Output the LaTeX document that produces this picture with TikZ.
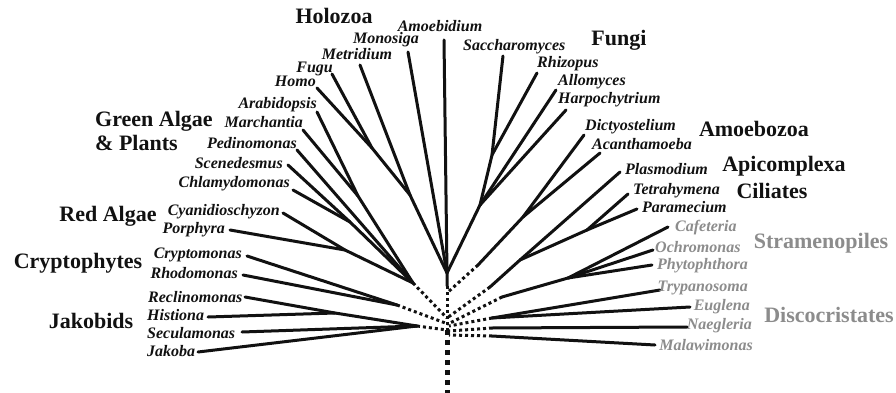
\documentclass[tikz,border=0pt]{standalone}
\usepackage{fontspec}
\setmainfont{Liberation Serif}
\usepackage{xcolor}
\definecolor{treeink}{HTML}{111111}
\definecolor{treemuted}{HTML}{8C8C8C}

\begin{document}
\begin{tikzpicture}[x=1pt, y=-1pt,
                    every node/.style={treeink, inner sep=0pt},
                    sp/.style={font=\fontsize{16}{16}\selectfont\bfseries\itshape},
                    spg/.style={sp, treemuted},
                    grp/.style={font=\fontsize{22}{24}\selectfont\bfseries},
                    grpg/.style={grp, treemuted},
                    branch/.style={treeink, line width=3pt, line join=round, line cap=round},
                    link/.style={treeink, line width=3pt, dash pattern=on 3pt off 3pt},
                    trunkline/.style={treeink, line width=5pt, dash pattern=on 5pt off 5pt}]

  \fill[white] (0,0) rectangle (896,393);
  \useasboundingbox (0,0) rectangle (896,393);

  %% Wurzel und Stamm
  \coordinate (root) at (447,330);
  \coordinate (base) at (447,393);
  \coordinate (ra) at (447,293);
  \coordinate (rb) at (447,318);
  \coordinate (rc) at (448,324);

  %% Verzweigungen
  \coordinate (hf) at (372,148);
  \coordinate (hfm) at (410,195);
  \coordinate (op) at (447,273);
  \coordinate (ops) at (447,286);
  \coordinate (sr) at (492,155);
  \coordinate (fg) at (480,205);
  \coordinate (am) at (523,217);
  \coordinate (amx) at (478,265);
  \coordinate (ci) at (587,230);
  \coordinate (al) at (520,260);
  \coordinate (alx) at (490,287);
  \coordinate (st) at (568,278);
  \coordinate (stx) at (502,297);
  \coordinate (eu) at (492,318);
  \coordinate (nx) at (492,328);
  \coordinate (mx) at (492,336);
  \coordinate (lp) at (358,196);
  \coordinate (cs) at (350,222);
  \coordinate (rd) at (345,250);
  \coordinate (pl) at (413,283);
  \coordinate (cr) at (397,305);
  \coordinate (hr) at (335,313);
  \coordinate (jk) at (417,326);

  %% Blattspitzen
  \coordinate (tHomo) at (317,88);
  \coordinate (tFugu) at (332,74);
  \coordinate (tMetridium) at (360,65);
  \coordinate (tMonosiga) at (408,52);
  \coordinate (tAmoebidium) at (444,40);
  \coordinate (tSaccharomyces) at (503,56);
  \coordinate (tRhizopus) at (537,73);
  \coordinate (tAllomyces) at (556,90);
  \coordinate (tHarpochytrium) at (566,110);
  \coordinate (tDictyostelium) at (584,135);
  \coordinate (tAcanthamoeba) at (600,153);
  \coordinate (tPlasmodium) at (620,172);
  \coordinate (tTetrahymena) at (628,194);
  \coordinate (tParamecium) at (637,209);
  \coordinate (tCafeteria) at (668,227);
  \coordinate (tOchromonas) at (653,250);
  \coordinate (tPhytophthora) at (652,265);
  \coordinate (tTrypanosoma) at (660,290);
  \coordinate (tEuglena) at (690,307);
  \coordinate (tNaegleria) at (687,327);
  \coordinate (tMalawimonas) at (655,345);
  \coordinate (tArabidopsis) at (317,112);
  \coordinate (tMarchantia) at (303,130);
  \coordinate (tPedinomonas) at (297,150);
  \coordinate (tScenedesmus) at (288,165);
  \coordinate (tChlamydomonas) at (293,190);
  \coordinate (tCyanidioschyzon) at (283,213);
  \coordinate (tPorphyra) at (230,230);
  \coordinate (tCryptomonas) at (247,256);
  \coordinate (tRhodomonas) at (243,275);
  \coordinate (tReclinomonas) at (245,297);
  \coordinate (tHistiona) at (208,317);
  \coordinate (tSeculamonas) at (242,332);
  \coordinate (tJakoba) at (198,352);

  %% Opisthokonta
  \draw[branch] (tHomo) -- (hf) -- (hfm) -- (op) -- (ops);
  \draw[branch] (tFugu) -- (hf);
  \draw[branch] (tMetridium) -- (hfm);
  \draw[branch] (tMonosiga) -- (op);
  \draw[branch] (tAmoebidium) -- (op);
  \draw[branch] (tSaccharomyces) -- (sr) -- (fg) -- (op);
  \draw[branch] (tRhizopus) -- (sr);
  \draw[branch] (tAllomyces) -- (fg);
  \draw[branch] (tHarpochytrium) -- (fg);
  \draw[link] (ops) -- (root);

  %% Amoebozoa, Alveolata, Stramenopiles
  \draw[branch] (tDictyostelium) -- (am) -- (amx);
  \draw[branch] (tAcanthamoeba) -- (am);
  \draw[link] (amx) -- (ra);
  \draw[branch] (tPlasmodium) -- (al) -- (alx);
  \draw[branch] (tTetrahymena) -- (ci) -- (al);
  \draw[branch] (tParamecium) -- (ci);
  \draw[link] (alx) -- (rb);
  \draw[branch] (tCafeteria) -- (st) -- (stx);
  \draw[branch] (tOchromonas) -- (st);
  \draw[branch] (tPhytophthora) -- (st);
  \draw[link] (stx) -- (rc);

  %% Discocristates und Malawimonas
  \draw[branch] (tTrypanosoma) -- (eu);
  \draw[branch] (tEuglena) -- (eu);
  \draw[branch] (tNaegleria) -- (nx);
  \draw[branch] (tMalawimonas) -- (mx);
  \draw[link] (eu) -- (449,326);
  \draw[link] (nx) -- (449,331);
  \draw[link] (mx) -- (449,335);

  %% Plantae
  \draw[branch] (tArabidopsis) -- (lp) -- (pl);
  \draw[branch] (tMarchantia) -- (lp);
  \draw[branch] (tPedinomonas) -- (pl);
  \draw[branch] (tScenedesmus) -- (cs) -- (pl);
  \draw[branch] (tChlamydomonas) -- (cs);
  \draw[branch] (tCyanidioschyzon) -- (rd) -- (pl);
  \draw[branch] (tPorphyra) -- (rd);
  \draw[link] (pl) -- (rb);

  %% Cryptophytes und Jakobids
  \draw[branch] (tCryptomonas) -- (cr);
  \draw[branch] (tRhodomonas) -- (cr);
  \draw[link] (cr) -- (rc);
  \draw[branch] (tReclinomonas) -- (hr) -- (jk);
  \draw[branch] (tHistiona) -- (hr);
  \draw[branch] (tSeculamonas) -- (jk);
  \draw[branch] (tJakoba) -- (jk);
  \draw[link] (jk) -- (root);

  %% Stamm
  \draw[trunkline] (root) -- (base);

  %% Artnamen links
  \node[sp, anchor=east] (nHomo) at (316,81.5) {Homo};
  \node[sp, anchor=east] (nFugu) at (333,69) {Fugu};
  \node[sp] (nMetridium) at (357,54.5) {Metridium};
  \node[sp] (nMonosiga) at (386,39.5) {Monosiga};
  \node[sp] (nAmoebidium) at (440,26) {Amoebidium};
  \node[sp, anchor=east] (nArabidopsis) at (317,105) {Arabidopsis};
  \node[sp, anchor=east] (nMarchantia) at (303,122) {Marchantia};
  \node[sp, anchor=east] (nPedinomonas) at (297,143) {Pedinomonas};
  \node[sp, anchor=east] (nScenedesmus) at (283,163) {Scenedesmus};
  \node[sp, anchor=east] (nChlamydomonas) at (290,184) {Chlamydomonas};
  \node[sp, anchor=east] (nCyanidioschyzon) at (280,212) {Cyanidioschyzon};
  \node[sp, anchor=east] (nPorphyra) at (225,230) {Porphyra};
  \node[sp, anchor=east] (nCryptomonas) at (242,255) {Cryptomonas};
  \node[sp, anchor=east] (nRhodomonas) at (238,273) {Rhodomonas};
  \node[sp, anchor=west] (nReclinomonas) at (148,297) {Reclinomonas};
  \node[sp, anchor=west] (nHistiona) at (147,315) {Histiona};
  \node[sp, anchor=west] (nSeculamonas) at (147,333) {Seculamonas};
  \node[sp, anchor=west] (nJakoba) at (147,351) {Jakoba};

  %% Artnamen rechts
  \node[sp, anchor=west] (nSaccharomyces) at (463,47) {Saccharomyces};
  \node[sp, anchor=west] (nRhizopus) at (537,64) {Rhizopus};
  \node[sp, anchor=west] (nAllomyces) at (558,82) {Allomyces};
  \node[sp, anchor=west] (nHarpochytrium) at (558,100) {Harpochytrium};
  \node[sp, anchor=west] (nDictyostelium) at (585,127) {Dictyostelium};
  \node[sp, anchor=west] (nAcanthamoeba) at (592,144) {Acanthamoeba};
  \node[sp, anchor=west] (nPlasmodium) at (625,169) {Plasmodium};
  \node[sp, anchor=west] (nTetrahymena) at (633,191) {Tetrahymena};
  \node[sp, anchor=west] (nParamecium) at (642,207) {Paramecium};
  \node[spg, anchor=west] (nCafeteria) at (675,228) {Cafeteria};
  \node[spg, anchor=west] (nOchromonas) at (655,247) {Ochromonas};
  \node[spg, anchor=west] (nPhytophthora) at (657,266) {Phytophthora};
  \node[spg, anchor=east] (nTrypanosoma) at (748,288) {Trypanosoma};
  \node[spg, anchor=east] (nEuglena) at (750,307) {Euglena};
  \node[spg, anchor=east] (nNaegleria) at (752,326) {Naegleria};
  \node[spg, anchor=east] (nMalawimonas) at (753,345) {Malawimonas};

  %% Gruppen
  \node[grp] (gHolozoa) at (334,16) {Holozoa};
  \node[grp, anchor=west, align=left] (gGreen) at (95,131) {Green Algae\\\& Plants};
  \node[grp] (gRed) at (108,216) {Red Algae};
  \node[grp] (gCrypto) at (78,263) {Cryptophytes};
  \node[grp] (gJakobids) at (91,321) {Jakobids};
  \node[grp] (gFungi) at (619,40) {Fungi};
  \node[grp] (gAmoebozoa) at (754,129) {Amoebozoa};
  \node[grp] (gApicomplexa) at (784,166) {Apicomplexa};
  \node[grp] (gCiliates) at (772,191) {Ciliates};
  \node[grpg] (gStramenopiles) at (821,243) {Stramenopiles};
  \node[grpg] (gDiscocristates) at (829,315) {Discocristates};

\end{tikzpicture}
\end{document}
